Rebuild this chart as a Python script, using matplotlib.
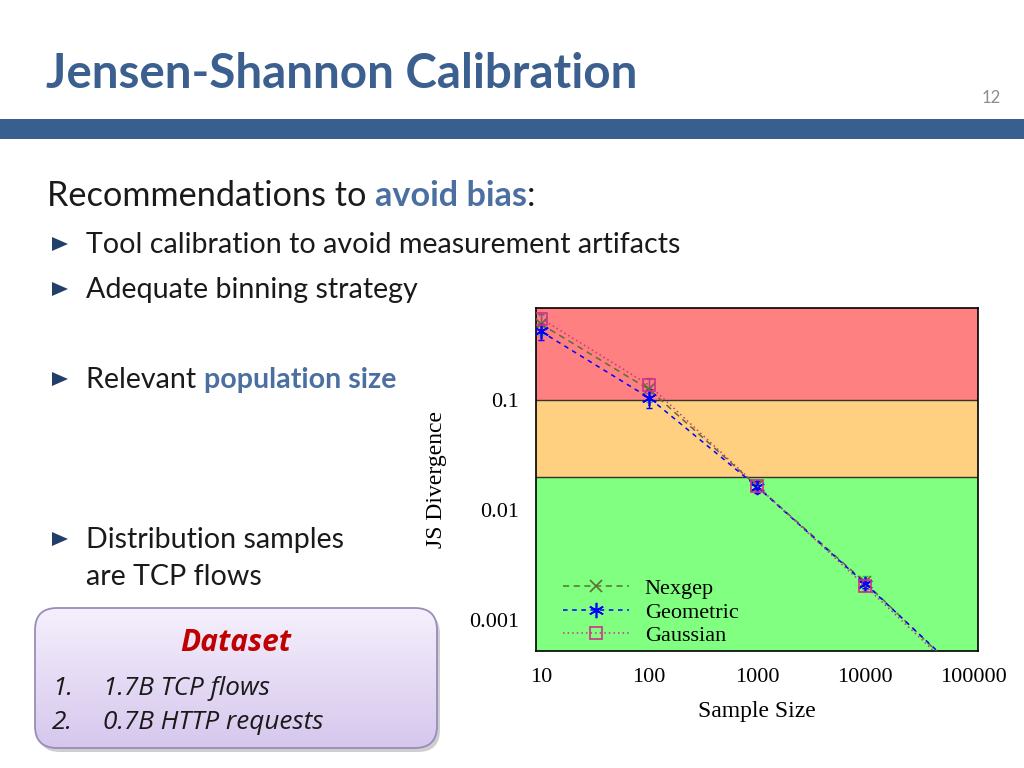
import matplotlib
matplotlib.use("Agg")
import matplotlib.pyplot as plt
import numpy as np
from matplotlib.patches import FancyBboxPatch, Rectangle, Polygon

# Datos del gráfico
sample_sizes = [10, 100, 1000, 10000, 100000]
nexgep = [0.49, 0.125, 0.0165, 0.0022, 0.00025]
geometric = [0.42, 0.105, 0.0163, 0.00215, 0.00026]
gaussian = [0.55, 0.137, 0.0166, 0.00205, 0.00024]
nexgep_err = [0.10, 0.03, 0.0020, 0.0003, 0.00003]
geometric_err = [0.07, 0.02, 0.0020, 0.0002, 0.00003]
gaussian_err = [0.05, 0.02, 0.0015, 0.0002, 0.00003]

# Bandas de color (umbral de divergencia)
band_limits = [0.02, 0.1]
band_colors = ["#80ff80", "#ffd080", "#ff8080"]

series_names = ["Nexgep", "Geometric", "Gaussian"]
bullets = ["Tool calibration to avoid measurement artifacts",
           "Adequate binning strategy",
           "Relevant ",
           "Distribution samples",
           "are TCP flows"]
dataset_items = ["1.7B TCP flows", "0.7B HTTP requests"]

W, H = 1024, 768
fig = plt.figure(figsize=(W / 100, H / 100), dpi=100)
fig.patch.set_facecolor("white")


def fx(x):
    return x / W


def fy(y):
    return 1 - y / H


renderer = fig.canvas.get_renderer()


def runs(x, y, pieces, **kw):
    # escribe varios trozos de texto seguidos en la misma línea
    for txt, style in pieces:
        t = fig.text(fx(x), fy(y), txt, va="baseline", ha="left", **kw, **style)
        bb = t.get_window_extent(renderer=renderer)
        x += bb.width
    return x


# Cabecera
fig.text(fx(46), fy(88), "Jensen-Shannon Calibration", family="Lato",
         fontweight="bold", fontsize=34.2, color="#3b5f8f", va="baseline")
fig.text(fx(1001), fy(103), "12", family="Lato", fontsize=12,
         color="#8c8c8c", ha="right", va="baseline")
fig.add_artist(Rectangle((0, fy(139)), 1, (139 - 119) / H,
                         transform=fig.transFigure, color="#385f8e", lw=0))

# Texto de la izquierda
runs(47, 206, [("Recommendations to ", {"color": "#1a1a1a"}),
               ("avoid bias", {"color": "#4a6fa0", "fontweight": "bold"}),
               (":", {"color": "#1a1a1a"})], family="Lato", fontsize=24.7)

bullet_y = [253, 298, 388, 548, 585]
for i, (txt, by) in enumerate(zip(bullets, bullet_y)):
    if i != 4:
        tri = [(fx(52), fy(by - 16)), (fx(52), fy(by - 2)), (fx(68), fy(by - 9))]
        fig.add_artist(Polygon(tri, closed=True, transform=fig.transFigure,
                               fc="#223f6a", ec="none"))
    if i == 2:
        runs(86, by, [(txt, {"color": "#1a1a1a"}),
                      ("population size", {"color": "#4a6fa0", "fontweight": "bold"})],
             family="Lato", fontsize=20.6)
    else:
        fig.text(fx(86), fy(by), txt, family="Lato", fontsize=20.6,
                 color="#1a1a1a", va="baseline")

# Caja del dataset con degradado
mx = 10
ax_box = fig.add_axes([fx(35 - mx), fy(748 + mx), (402 + 2 * mx) / W, (140 + 2 * mx) / H])
ax_box.set_xlim(-mx, 402 + mx)
ax_box.set_ylim(-mx, 140 + mx)
ax_box.axis("off")
shadow = FancyBboxPatch((3, -4), 402, 140, boxstyle="round,pad=0,rounding_size=22",
                        fc="#b0b0b0", ec="none", alpha=0.6)
ax_box.add_patch(shadow)
grad = np.linspace(0, 1, 100).reshape(-1, 1)
top_c = np.array([0.96, 0.94, 0.99])
bot_c = np.array([0.84, 0.78, 0.93])
img = top_c * (1 - grad[..., None]) + bot_c * grad[..., None]
img = np.repeat(img, 2, axis=1)
im = ax_box.imshow(img, extent=[0, 402, 0, 140], aspect="auto", zorder=2)
clip = FancyBboxPatch((0, 0), 402, 140, boxstyle="round,pad=0,rounding_size=22",
                      fc="none", ec="#9a8cb8", lw=1.3, zorder=3)
ax_box.add_patch(clip)
im.set_clip_path(clip)

fig.text(fx(236), fy(651), "Dataset", family="Open Sans", fontsize=21.5,
         fontweight="bold", fontstyle="italic", color="#c00000",
         ha="center", va="baseline")
for k, (item, iy) in enumerate(zip(dataset_items, [695, 729])):
    fig.text(fx(52), fy(iy), f"{k + 1}.", family="Open Sans", fontsize=18.8,
             fontstyle="italic", color="#1a1a1a", va="baseline")
    fig.text(fx(103), fy(iy), item, family="Open Sans", fontsize=18.8,
             fontstyle="italic", color="#1a1a1a", va="baseline")

# Gráfico
ax = fig.add_axes([fx(536), fy(651), (978 - 536) / W, (651 - 308) / H])
ax.set_xscale("log")
ax.set_yscale("log")
ax.set_xlim(9.0, 111000)
ax.set_ylim(0.000524, 0.686)

lows = [ax.get_ylim()[0]] + band_limits
highs = band_limits + [ax.get_ylim()[1]]
for lo, hi, c in zip(lows, highs, band_colors):
    ax.axhspan(lo, hi, color=c, zorder=0, lw=0)
for b in band_limits:
    ax.axhline(b, color="#333333", lw=1, zorder=1)

styles = [
    dict(color="#5b7033", ls=(0, (4, 3)), marker="x", ms=8),
    dict(color="#0000ff", ls=(0, (3, 3)), marker=(6, 2, 0), ms=11),
    dict(color="#d0308a", ls=(0, (1, 2)), marker="s", ms=9, mfc="none"),
]
err_colors = ["#40c040", "#0000ff", "#d0308a"]
for name, vals, err, st, ecol in zip(series_names, [nexgep, geometric, gaussian],
                                     [nexgep_err, geometric_err, gaussian_err],
                                     styles, err_colors):
    ax.errorbar(sample_sizes, vals, yerr=err, fmt="none", elinewidth=1,
                ecolor=ecol, capsize=2, zorder=3)
    ax.plot(sample_sizes, vals, label=name, lw=1.1, mew=1.2, zorder=4, **st)

serif = "Liberation Serif"
ax.set_xticks(sample_sizes)
ax.set_xticklabels([str(s) for s in sample_sizes])
ax.set_yticks([0.001, 0.01, 0.1])
ax.set_yticklabels(["0.001", "0.01", "0.1"])
ax.minorticks_off()
ax.tick_params(length=0, labelsize=16, pad=12)
for lab in ax.get_xticklabels() + ax.get_yticklabels():
    lab.set_family(serif)
ax.set_xlabel("Sample Size", family=serif, fontsize=17, labelpad=10)
ax.set_ylabel("JS Divergence", family=serif, fontsize=17, labelpad=16)
for s in ax.spines.values():
    s.set_linewidth(1.2)

ax.legend(loc="lower left", bbox_to_anchor=(0.03, -0.025), frameon=False,
          prop={"family": serif, "size": 16}, handlelength=3,
          handletextpad=0.7, labelspacing=0.14, borderaxespad=0.2)

fig.savefig("out.png", dpi=100)
